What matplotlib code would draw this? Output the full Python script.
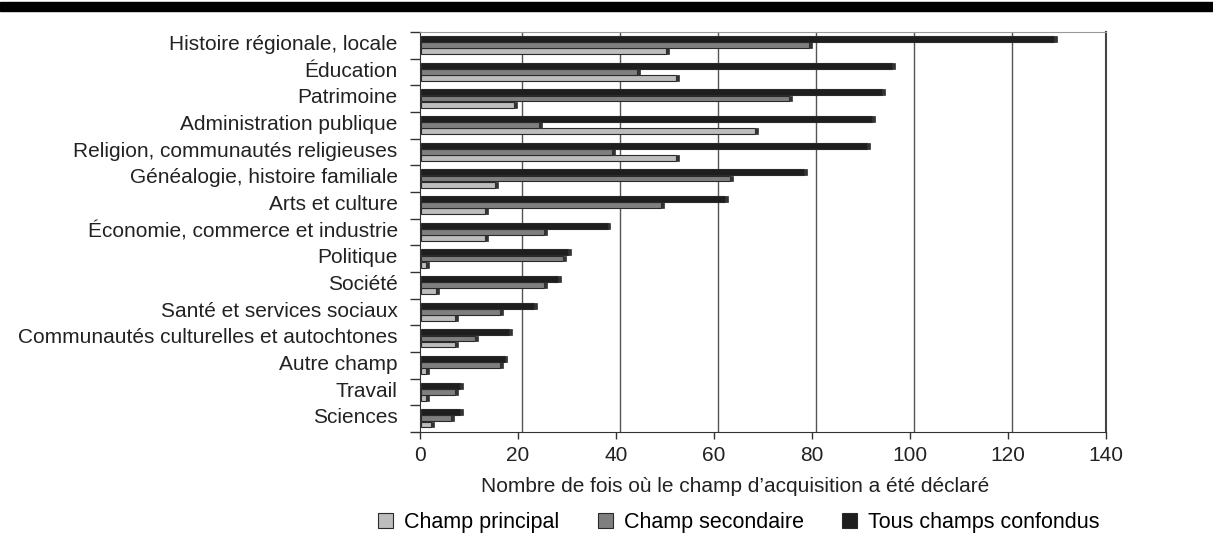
import matplotlib.pyplot as plt
import matplotlib.patches as patches
import numpy as np

categories = [
    "Histoire régionale, locale",
    "Éducation",
    "Patrimoine",
    "Administration publique",
    "Religion, communautés religieuses",
    "Généalogie, histoire familiale",
    "Arts et culture",
    "Économie, commerce et industrie",
    "Politique",
    "Société",
    "Santé et services sociaux",
    "Communautés culturelles et autochtones",
    "Autre champ",
    "Travail",
    "Sciences",
]
tous = [129, 96, 94, 92, 91, 78, 62, 38, 30, 28, 23, 18, 17, 8, 8]
secondaire = [79, 44, 75, 24, 39, 63, 49, 25, 29, 25, 16, 11, 16, 7, 6]
principal = [50, 52, 19, 68, 52, 15, 13, 13, 1, 3, 7, 7, 1, 1, 2]
series_labels = ["Champ principal", "Champ secondaire", "Tous champs confondus"]
x_ticks = [0, 20, 40, 60, 80, 100, 120, 140]

plt.rcParams["font.family"] = ["Liberation Sans", "DejaVu Sans"]

fig = plt.figure(figsize=(12.13, 5.35), dpi=100)
ax = fig.add_axes([0.346, 0.1925, 0.566, 0.7475])

# thick rule at the top of the page
fig.patches.append(patches.Rectangle((0, 1 - 11 / 535), 1, 9 / 535,
                                     transform=fig.transFigure, color="black"))

y = np.arange(len(categories))
h = 0.22
colors = ["#bdbdbd", "#7f7f7f", "#1e1e1e"]
offsets = [0.22, -0.01, -0.24]
for vals, off, col in zip([principal, secondaire, tous], offsets, colors):
    ax.barh(y + off, vals, height=h, left=0.3, color=col,
            edgecolor="#2a2a2a", linewidth=0.8, zorder=3)
    # little dark cap at the right end (pseudo depth)
    ax.barh(y + off, [0.6] * len(vals), height=h, left=np.array(vals) + 0.3,
            color="#333333", edgecolor="#333333", linewidth=0.5, zorder=3)

ax.set_xlim(0, 140)
ax.set_ylim(len(categories) - 0.5, -0.5)

for xv in x_ticks[1:-1]:
    ax.axvline(xv + 0.8, color="#555555", linewidth=1.0, zorder=1)

ax.spines["top"].set_color("#999999")
ax.spines["right"].set_color("#444444")
ax.spines["right"].set_linewidth(1.5)
ax.spines["left"].set_color("#333333")
ax.spines["bottom"].set_color("#333333")

ax.set_yticks(np.arange(len(categories) + 1) - 0.5)
ax.set_yticklabels([])
ax.tick_params(axis="y", length=7, width=1, color="#333333")
for i, c in enumerate(categories):
    ax.text(-4.5, i - 0.03, c, ha="right", va="center", fontsize=15,
            color="#222222")

ax.set_xticks(x_ticks)
ax.set_xticklabels([str(v) for v in x_ticks], fontsize=15, color="#222222")
ax.tick_params(axis="x", length=5, width=1, color="#333333", pad=5)
ax.set_xlabel("Nombre de fois où le champ d\u2019acquisition a été déclaré",
              fontsize=15, color="#222222", labelpad=9)
ax.xaxis.label.set_x(0.459)

handles = [patches.Patch(facecolor=c, edgecolor="#2a2a2a", linewidth=0.8)
           for c in colors]
fig.legend(handles, series_labels, loc="center", bbox_to_anchor=(0.609, 0.024),
           ncol=3, frameon=False, fontsize=15.5, handlelength=0.7,
           handleheight=0.7, handletextpad=0.5, columnspacing=1.8)

fig.savefig("out.png", dpi=100)
